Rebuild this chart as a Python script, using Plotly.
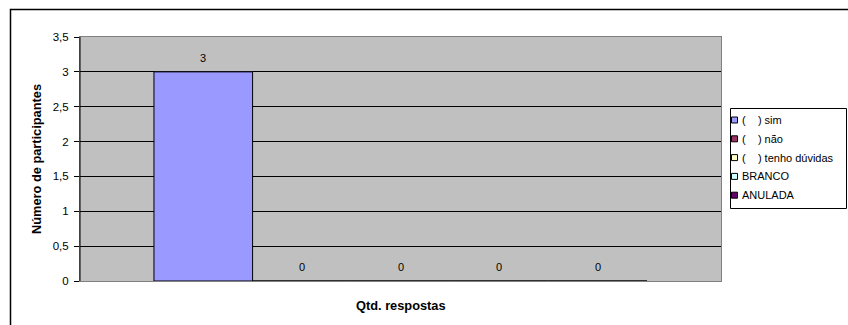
import plotly.graph_objects as go

# Survey answers: one category, five response series
category = ["Qtd. respostas"]
series_names = ["(    ) sim", "(    ) não", "(    ) tenho dúvidas", "BRANCO", "ANULADA"]
series_values = [3, 0, 0, 0, 0]
series_colors = ["#9999FF", "#993366", "#FFFFCC", "#CCFFFF", "#660066"]
y_ticks = [0, 0.5, 1, 1.5, 2, 2.5, 3, 3.5]

FONT = "Liberation Sans, Arial, sans-serif"
BARGAP = 1.5 / 6.5

fig = go.Figure()
for name, val, col in zip(series_names, series_values, series_colors):
    fig.add_trace(go.Bar(
        x=[0], y=[val], name=name, showlegend=False,
        marker=dict(color=col, line=dict(color="black", width=1)),
    ))

W, H = 848, 325
L, R, T, B = 80, 721, 37, 281
pw, ph = R - L, B - T

def px(x):
    return (x - L) / pw

def py(y):
    return (B - y) / ph

# value labels above each bar of the group
n = len(series_values)
bw = (1 - BARGAP) / n
annotations = []
for i, val in enumerate(series_values):
    annotations.append(dict(
        x=-0.5 + BARGAP / 2 + (i + 0.5) * bw, y=val, xref="x", yref="y",
        text=str(val).replace(".", ","), showarrow=False,
        yanchor="middle", yshift=14,
        font=dict(family=FONT, size=11, color="black"),
    ))
annotations.append(dict(
    text="<b>Qtd. respostas</b>", xref="paper", yref="paper",
    x=0.5, y=py(305), xanchor="center", yanchor="middle",
    showarrow=False, font=dict(family=FONT, size=12.8, color="black"),
))

shapes = [
    # chart area border
    dict(type="rect", xref="paper", yref="paper",
         x0=px(10.5), y0=py(340), x1=px(860), y1=py(9.5),
         line=dict(color="black", width=1.5), layer="below"),
    # left axis line
    dict(type="line", xref="paper", yref="paper",
         x0=0, x1=0, y0=0, y1=1, line=dict(color="black", width=1)),
    # legend box
    dict(type="rect", xref="paper", yref="paper",
         x0=px(730.5), y0=py(208.5), x1=px(846.5), y1=py(108.5),
         fillcolor="white", line=dict(color="black", width=1)),
]

# legend entries: small swatch + label
for i, (name, col) in enumerate(zip(series_names, series_colors)):
    yc = 120 + 18.8 * i
    shapes.append(dict(
        type="rect", xref="paper", yref="paper",
        x0=px(731.5), x1=px(737.5), y0=py(yc + 3), y1=py(yc - 3),
        fillcolor=col, line=dict(color="black", width=1),
    ))
    annotations.append(dict(
        text=name, xref="paper", yref="paper",
        x=px(739.5), y=py(yc), xanchor="left", yanchor="middle",
        showarrow=False, font=dict(family=FONT, size=11, color="black"),
    ))

fig.update_layout(
    width=W, height=H,
    margin=dict(l=L, r=W - R, t=T, b=H - B, autoexpand=False),
    paper_bgcolor="white",
    plot_bgcolor="#C0C0C0",
    barmode="group",
    bargap=BARGAP,
    bargroupgap=0,
    separators=",.",
    font=dict(family=FONT, size=11, color="black"),
    showlegend=False,
    xaxis=dict(
        range=[-0.5, 0.5], showticklabels=False, ticks="", showgrid=False,
        showline=True, linecolor="#808080", linewidth=1, mirror=True,
        zeroline=False, title=None,
    ),
    yaxis=dict(
        range=[0, 3.5], tickvals=y_ticks,
        showgrid=True, gridcolor="black", gridwidth=1,
        ticks="outside", ticklen=5, tickcolor="black",
        ticklabelstandoff=3,
        showline=True, linecolor="#808080", linewidth=1, mirror=True,
        tickfont=dict(family=FONT, size=11.5, color="black"),
        title=dict(text="<b>Número de participantes</b>",
                   font=dict(family=FONT, size=12.8, color="black"),
                   standoff=8),
        zeroline=False,
    ),
    shapes=shapes,
    annotations=annotations,
)

fig.write_html("out.html")
